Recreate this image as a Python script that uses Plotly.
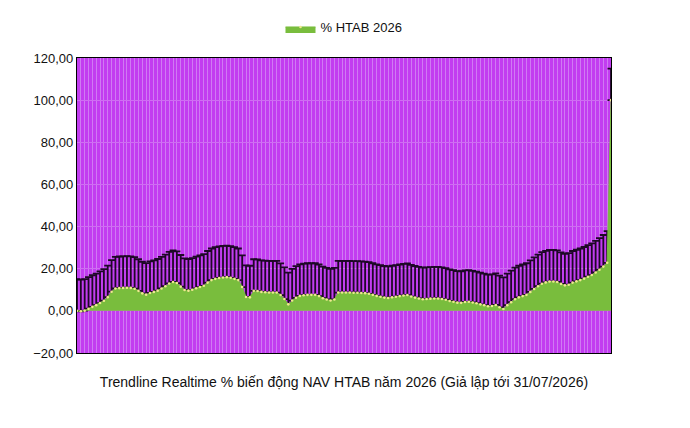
import plotly.graph_objects as go

# % change of NAV (HTAB 2026), one value per trading session
values = [
    0.0, -0.2, 0.1, 1.0, 1.9, 2.7, 3.7, 4.8, 6.5, 9.1,
    10.6, 10.8, 10.9, 11.0, 10.9, 10.5, 9.5, 8.3, 7.7, 8.5,
    9.0, 9.6, 10.6, 11.7, 13.0, 13.7, 13.2, 11.5, 9.9, 9.6,
    10.0, 10.7, 11.3, 11.9, 13.4, 14.6, 15.2, 15.6, 15.8, 16.0,
    15.7, 15.2, 14.6, 11.3, 6.6, 6.4, 9.5, 9.4, 9.0, 8.8,
    8.7, 8.7, 8.7, 7.5, 5.6, 3.1, 4.9, 6.2, 7.1, 7.4,
    7.6, 7.6, 7.6, 7.0, 6.0, 5.4, 4.9, 5.4, 8.7, 8.7,
    8.7, 8.7, 8.6, 8.6, 8.5, 8.4, 8.1, 7.6, 7.1, 6.7,
    6.3, 6.1, 6.4, 6.7, 7.0, 7.3, 7.5, 6.8, 6.3, 5.9,
    5.5, 5.6, 5.8, 5.9, 5.9, 5.6, 5.3, 4.7, 4.3, 3.9,
    3.8, 4.2, 4.3, 4.0, 3.6, 3.1, 2.7, 2.2, 2.3, 2.8,
    1.7, 0.9, 2.7, 4.1, 5.5, 6.4, 7.0, 7.6, 9.0, 10.4,
    11.7, 12.9, 13.5, 13.9, 13.9, 13.7, 12.8, 12.1, 12.4, 13.4,
    14.0, 14.6, 15.3, 16.2, 17.0, 18.2, 19.5, 21.0, 22.8, 100.0,
]
sessions = list(range(len(values)))
trend_band = 15.0  # upper error band above each point

series_name = "% HTAB 2026"
chart_title = "Trendline Realtime % biến động NAV HTAB năm 2026 (Giả lập tới 31/07/2026)"
y_ticks = [-20, 0, 20, 40, 60, 80, 100, 120]

fig = go.Figure()
# error bars first, so the area drawn afterwards hides the zero-length lower caps
fig.add_trace(go.Scatter(
    x=sessions, y=values, mode="markers", showlegend=False, hoverinfo="skip",
    marker=dict(size=1, opacity=0),
    cliponaxis=False,
    error_y=dict(type="constant", value=trend_band, symmetric=False, valueminus=0,
                 color="#1E0826", thickness=1.8, width=3.5),
))
fig.add_trace(go.Scatter(
    x=sessions, y=values, name=series_name,
    mode="lines+markers", fill="tozeroy",
    fillcolor="#79BD3D",
    line=dict(color="#79BD3D", width=1),
    marker=dict(size=2.6, color="#F0E890"),
))

fig.update_layout(
    width=690, height=428,
    margin=dict(l=77, r=79, t=58, b=75),
    paper_bgcolor="white",
    plot_bgcolor="#C23DF0",
    separators=",.",
    font=dict(family="Liberation Sans, Arial, sans-serif", size=13, color="#111111"),
    showlegend=True,
    legend=dict(orientation="h", x=0.5, xanchor="center", y=1.105, yanchor="middle",
                font=dict(size=13), bgcolor="rgba(0,0,0,0)", itemwidth=30),
    xaxis=dict(
        range=[0, len(values) - 1], showticklabels=False, ticks="",
        showgrid=True, gridcolor="#D07AF3", gridwidth=1, dtick=1, tick0=0,
        showline=True, linecolor="black", linewidth=1.2, mirror=True,
        zeroline=False,
        title=dict(text=chart_title, font=dict(size=14), standoff=24),
    ),
    yaxis=dict(
        range=[-20, 120], tickvals=y_ticks, tickformat=".2f",
        showgrid=True, gridcolor="#CF6DF2", gridwidth=1,
        showline=True, linecolor="black", linewidth=1.2, mirror=True,
        zeroline=False, ticks="", ticklen=0,
    ),
)

fig.write_html("out.html")
